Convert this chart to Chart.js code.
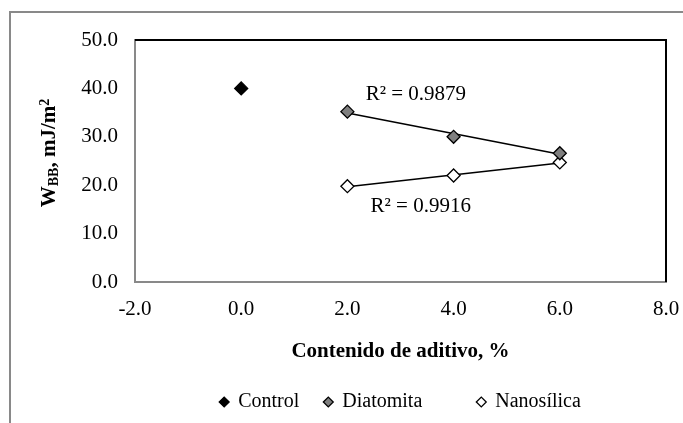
<!DOCTYPE html>
<html>
<head>
<meta charset="utf-8">
<script src="https://cdn.jsdelivr.net/npm/chart.js@4/dist/chart.umd.min.js"></script>
<style>
html, body { margin: 0; padding: 0; background: #fff; overflow: hidden; }
#wrap { position: relative; width: 683px; height: 423px; }
#frame { position: absolute; left: 9px; top: 11px; width: 800px; height: 600px; border: 2px solid #898989; box-sizing: border-box; }
canvas { position: absolute; left: 0; top: 0; }
</style>
</head>
<body>
<div id="wrap"><div id="frame"></div><canvas id="canvas" width="683" height="423"></canvas></div>
<script>
var controlX = [0];
var controlY = [40.0];
var diatomitaX = [2, 4, 6];
var diatomitaY = [35.2, 30.0, 26.6];
var nanosilicaX = [2, 4, 6];
var nanosilicaY = [19.8, 22.0, 24.7];

// trend lines, ends
var diatomitaTrendX = [2, 6];
var diatomitaTrendY = [34.9, 26.4];
var nanosilicaTrendX = [2, 6];
var nanosilicaTrendY = [19.7, 24.6];

var r2Labels = ['R\u00b2 = 0.9879', 'R\u00b2 = 0.9916'];
var r2X = [3.29, 3.38];
var r2Y = [38.8, 15.5];

var seriesNames = ['Control', 'Diatomita', 'Nanos\u00edlica'];
var legendGaps = [3, 9, 0]; // extra spaces after each legend entry, like the excel legend
var xTitle = 'Contenido de aditivo, %';

var serif = 'Liberation Serif';
Chart.defaults.color = '#000';
Chart.defaults.font.family = serif;
Chart.defaults.font.size = 21;

function pts(xs, ys) {
    return xs.map(function (x, i) { return { x: x, y: ys[i] }; });
}

function marker(name, data, fill) {
    return {
        label: name,
        data: data,
        pointStyle: 'rectRot',
        pointRadius: 6.5,
        pointHoverRadius: 6.5,
        backgroundColor: fill,
        borderColor: '#000',
        borderWidth: 1.3,
        order: 1
    };
}

function trend(data) {
    return {
        label: 'trend',
        data: data,
        showLine: true,
        pointRadius: 0,
        borderColor: '#000',
        borderWidth: 1.5,
        order: 2
    };
}

var frameLines = {
    id: 'frameLines',
    afterDraw: function (chart) {
        var a = chart.chartArea, ctx = chart.ctx;
        ctx.save();
        ctx.strokeStyle = '#000';
        ctx.lineWidth = 2;
        ctx.beginPath();
        ctx.moveTo(a.left, a.top);
        ctx.lineTo(a.right, a.top);
        ctx.lineTo(a.right, a.bottom);
        ctx.stroke();
        ctx.restore();
    }
};

var r2Text = {
    id: 'r2Text',
    afterDatasetsDraw: function (chart) {
        var ctx = chart.ctx;
        ctx.save();
        ctx.fillStyle = '#000';
        ctx.font = '21px "' + serif + '"';
        ctx.textAlign = 'center';
        ctx.textBaseline = 'middle';
        for (var i = 0; i < r2Labels.length; i++) {
            ctx.fillText(r2Labels[i], chart.scales.x.getPixelForValue(r2X[i]), chart.scales.y.getPixelForValue(r2Y[i]));
        }
        ctx.restore();
    }
};

// y title with subscript and superscript
var yTitle = {
    id: 'yTitle',
    afterDraw: function (chart) {
        var ctx = chart.ctx;
        var big = 'bold 21px "' + serif + '"', small = 'bold 14px "' + serif + '"';
        var parts = [['W', big, 0], ['BB', small, 3], [', mJ/m', big, 0], ['2', small, -6]];
        var w = 0;
        parts.forEach(function (p) { ctx.font = p[1]; w += ctx.measureText(p[0]).width; });
        var mid = (chart.chartArea.top + chart.chartArea.bottom) / 2 - 8;
        ctx.save();
        ctx.translate(55, mid);
        ctx.rotate(-Math.PI / 2);
        ctx.fillStyle = '#000';
        ctx.textBaseline = 'alphabetic';
        ctx.textAlign = 'left';
        var x = -w / 2;
        parts.forEach(function (p) {
            ctx.font = p[1];
            ctx.fillText(p[0], x, p[2]);
            x += ctx.measureText(p[0]).width;
        });
        ctx.restore();
    }
};

var ctx = document.getElementById('canvas').getContext('2d');
new Chart(ctx, {
    type: 'scatter',
    data: {
        datasets: [
            marker(seriesNames[0], pts(controlX, controlY), '#000'),
            marker(seriesNames[1], pts(diatomitaX, diatomitaY), '#7f7f7f'),
            marker(seriesNames[2], pts(nanosilicaX, nanosilicaY), '#fff'),
            trend(pts(diatomitaTrendX, diatomitaTrendY)),
            trend(pts(nanosilicaTrendX, nanosilicaTrendY))
        ]
    },
    options: {
        responsive: false,
        animation: false,
        devicePixelRatio: 1,
        layout: { padding: { left: 0, right: 17, top: 40, bottom: 1 } },
        plugins: {
            tooltip: { enabled: false },
            legend: {
                position: 'bottom',
                fullSize: false,
                labels: {
                    usePointStyle: true,
                    boxWidth: 8,
                    boxHeight: 7,
                    padding: 10,
                    font: { size: 20, family: serif },
                    filter: function (item) { return item.datasetIndex < 3; },
                    generateLabels: function (chart) {
                        var items = Chart.defaults.plugins.legend.labels.generateLabels(chart);
                        items.forEach(function (it) {
                            if (it.datasetIndex < 3) it.text = it.text + ' '.repeat(legendGaps[it.datasetIndex]);
                        });
                        return items;
                    }
                }
            }
        },
        scales: {
            x: {
                type: 'linear',
                min: -2,
                max: 8,
                ticks: { stepSize: 2, padding: 15, callback: function (v) { return v.toFixed(1); } },
                grid: { display: false, drawTicks: false },
                border: { color: '#898989', width: 2 },
                title: { display: true, text: xTitle, font: { size: 21, weight: 'bold', family: serif }, padding: { top: 0, bottom: 18 } },
                afterFit: function (s) { s.height = 100; s.paddingLeft = 0; s.paddingRight = 0; }
            },
            y: {
                min: 0,
                max: 50,
                ticks: { stepSize: 10, padding: 17, callback: function (v) { return v.toFixed(1); } },
                grid: { display: false, drawTicks: false },
                border: { color: '#898989', width: 2 },
                afterFit: function (s) { s.width = 135; }
            }
        }
    },
    plugins: [frameLines, r2Text, yTitle]
});
</script>
</body>
</html>
